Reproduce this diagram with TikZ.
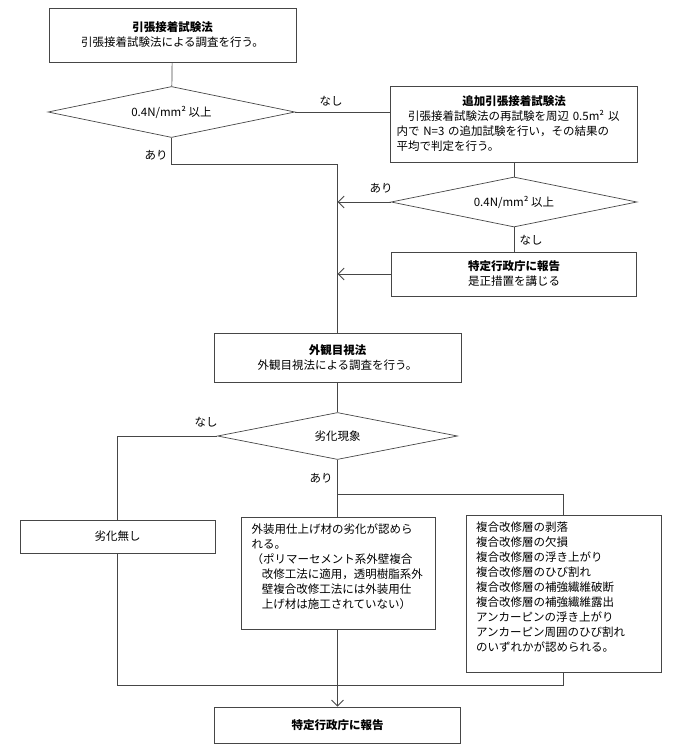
\documentclass[tikz,border=0pt]{standalone}
\usepackage{fontspec}
\setmainfont{Noto Sans CJK JP}
\usepackage{tikz}
\usetikzlibrary{shapes.geometric,arrows.meta}
\definecolor{chartgray}{RGB}{70,70,70}

\begin{document}
\begin{tikzpicture}[x=1pt, y=-1pt, font=\fontsize{11.5}{15}\selectfont,
        procbox/.style={draw=chartgray, line width=0.7pt, align=center, inner sep=4pt},
        decision/.style={draw=chartgray, line width=0.7pt, diamond, aspect=4, inner sep=0pt},
        notebox/.style={draw=chartgray, line width=0.7pt, align=left, anchor=north, inner xsep=10pt, inner ysep=6pt},
        flow/.style={draw=chartgray, line width=0.7pt},
        flowarrow/.style={flow, -{Straight Barb[length=6pt, width=12pt, line width=0.9pt]}},
        lbl/.style={inner sep=1pt}]
        \useasboundingbox (0,0) rectangle (683,752);

        % Pull-off test
        \node[procbox, minimum width=247pt, minimum height=54pt] (pulltest) at (172.5,35)
            {\textbf{引張接着試験法}\\引張接着試験法による調査を行う。};
        \node[decision, minimum width=247pt, minimum height=51pt] (check1) at (171.5,112) {0.4N/mm² 以上};

        % Additional test (right column)
        \node[procbox, minimum width=247pt, minimum height=76pt, text width=235pt, align=left] (addtest) at (514,124)
            {\hfill\textbf{追加引張接着試験法}\hfill\mbox{}\\
             　引張接着試験法の再試験を周辺 0.5m² 以\\
             内で N=3 の追加試験を行い，その結果の\\
             平均で判定を行う。};
        \node[decision, minimum width=246pt, minimum height=50pt] (check2) at (514,202) {0.4N/mm² 以上};
        \node[procbox, minimum width=245pt, minimum height=44pt] (report1) at (514,274)
            {\textbf{特定行政庁に報告}\\是正措置を講じる};

        % Visual inspection
        \node[procbox, minimum width=247pt, minimum height=49pt] (visual) at (337.5,357.5)
            {\textbf{外観目視法}\\外観目視法による調査を行う。};
        \node[decision, minimum width=240pt, minimum height=47pt] (check3) at (337.5,436) {劣化現象};

        % Results
        \node[procbox, minimum width=195pt, minimum height=33pt] (nochange) at (117.5,536.5) {劣化無し};
        \node[notebox, text width=174pt] (finishdeg) at (338.5,517)
            {外装用仕上げ材の劣化が認めら\\
             れる。\\
             （ポリマーセメント系外壁複合\\
             \hspace*{0.9em}改修工法に適用，透明樹脂系外\\
             \hspace*{0.9em}壁複合改修工法には外装用仕\\
             \hspace*{0.9em}上げ材は施工されていない）\\
             \mbox{}};
        \node[notebox, text width=175pt] (damage) at (563.5,515)
            {複合改修層の剥落\\
             複合改修層の欠損\\
             複合改修層の浮き上がり\\
             複合改修層のひび割れ\\
             複合改修層の補強繊維破断\\
             複合改修層の補強繊維露出\\
             アンカーピンの浮き上がり\\
             アンカーピン周囲のひび割れ\\
             のいずれかが認められる。\\
             \mbox{}};
        \node[procbox, minimum width=246pt, minimum height=36pt] (finalreport) at (337.5,725)
            {\textbf{特定行政庁に報告}};

        % Branch labels
        \node[lbl] (nashi1) at (331,101) {なし};
        \node[lbl] (ari1) at (156,155) {あり};
        \node[lbl] (ari2) at (381,188) {あり};
        \node[lbl] (nashi2) at (531,240) {なし};
        \node[lbl] (nashi3) at (206,422) {なし};
        \node[lbl] (ari3) at (321,478) {あり};

        % Connectors
        \draw[flow] (pulltest) -- (check1);
        \draw[flow] (check1.east) -- (check1.east -| addtest.west);
        \draw[flow] (check1.south) -- ++(0,26) -| (visual.north);
        \draw[flow] (addtest) -- (check2);
        \draw[flow] (check2) -- (report1);
        \draw[flowarrow] (check2.west) -- (check2.west -| visual.north);
        \draw[flowarrow] (report1.west) -- (report1.west -| visual.north);
        \draw[flow] (visual) -- (check3);
        \draw[flow] (check3.west) -| (nochange.north);
        \draw[flow] (check3.south) -- (check3.south |- finishdeg.north);
        \draw[flow] (check3.south) ++(0,34) -| (damage.north);
        \draw[flow] (nochange.south) -- ++(0,132) -| (damage.south);
        \draw[flowarrow] (finishdeg.south -| finalreport.north) -- (finalreport.north);
\end{tikzpicture}
\end{document}
